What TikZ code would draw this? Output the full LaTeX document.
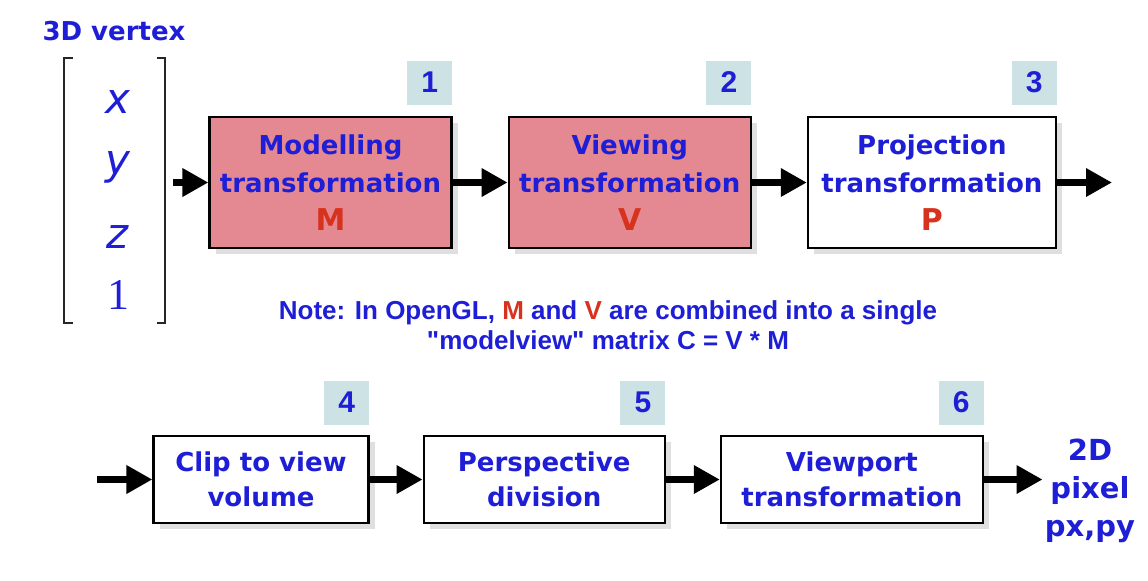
\documentclass[tikz,border=0pt]{standalone}
\usepackage{fontspec}
\setmainfont{DejaVu Sans}
\newfontfamily\notefont{Liberation Sans}
\newfontfamily\onefont{Liberation Serif}
\usetikzlibrary{arrows.meta, positioning, shadows}

\definecolor{stageblue}{RGB}{30,30,215}
\definecolor{stagered}{RGB}{215,50,30}
\definecolor{stagepink}{RGB}{228,137,145}
\definecolor{numgrey}{RGB}{204,226,228}

\newcommand{\matlet}[1]{\textcolor{stagered}{\fontsize{15}{19}\selectfont #1}}

\begin{document}
\begin{tikzpicture}[
  x=0.5pt, y=-0.5pt,
  node distance=27.5pt and 27.5pt,
  stage/.style={draw=black, line width=1.1pt, fill=white, align=center,
    minimum width=121pt, minimum height=65.5pt, inner sep=0pt,
    font=\fontsize{13}{19}\selectfont\bfseries, text=stageblue,
    drop shadow={shadow xshift=3pt, shadow yshift=-3pt, opacity=0.25}},
  lowstage/.style={stage, minimum height=43.5pt,
    font=\fontsize{13}{17.5}\selectfont\bfseries},
  num/.style={fill=numgrey, minimum width=22.5pt, minimum height=22pt,
    inner sep=0pt, font=\notefont\fontsize{15}{15}\selectfont\bfseries,
    text=stageblue},
  entry/.style={text=stageblue, font=\fontsize{21}{21}\selectfont\itshape},
  label/.style={text=stageblue, align=center, inner sep=1pt},
  arr/.style={-{Triangle[length=13pt, width=13.5pt]}, line width=3.5pt}
]
\useasboundingbox (0,0) rectangle (1148,580);

% input vertex
\node[label, font=\fontsize{13}{15}\selectfont\bfseries] (vtx) at (114,31) {3D vertex};
\node[entry] (ex) at (118,102) {x};
\node[entry] (ey) at (118,167) {y};
\node[entry] (ez) at (118,237) {z};
\node[entry, font=\onefont\fontsize{22}{22}\selectfont] (eone) at (118,295) {1};
\draw[line width=1pt, black!85] (73,58) -- (64,58) -- (64,323) -- (73,323);
\draw[line width=1pt, black!85] (157,58) -- (165,58) -- (165,323) -- (157,323);

% top row
\node[stage, fill=stagepink] (mod) at (330.5,182.5)
  {Modelling\\transformation\\\matlet{M}};
\node[stage, fill=stagepink, right=of mod] (view)
  {Viewing\\transformation\\\matlet{V}};
\node[stage, minimum width=124pt, right=of view] (proj)
  {Projection\\transformation\\\matlet{P}};

\node[num, above left=5.5pt and 0pt of mod.north east] (n1) {1};
\node[num, above left=5.5pt and 0pt of view.north east] (n2) {2};
\node[num, above left=5.5pt and 0pt of proj.north east] (n3) {3};

\coordinate (in1) at (173,182.5);
\coordinate (out1) at (1112,182.5);
\draw[arr] (in1) -- (mod);
\draw[arr] (mod) -- (view);
\draw[arr] (view) -- (proj);
\draw[arr] (proj) -- (out1);

% note
\node[label, font=\notefont\fontsize{13}{15}\selectfont\bfseries] (note) at (608,325)
  {Note: In OpenGL, \textcolor{stagered}{M} and \textcolor{stagered}{V} are combined into a single\\
   "modelview" matrix C = V * M};

% bottom row
\node[lowstage, minimum width=107.5pt] (clip) at (261,479.5) {Clip to view\\volume};
\node[lowstage, minimum width=120.5pt, right=26.5pt of clip] (persp) {Perspective\\division};
\node[lowstage, minimum width=131pt, right=27pt of persp] (vport) {Viewport\\transformation};

\node[num, above left=5pt and 0pt of clip.north east] (n4) {4};
\node[num, above left=5pt and 0pt of persp.north east] (n5) {5};
\node[num, above left=5pt and 0pt of vport.north east] (n6) {6};

\node[label, font=\fontsize{14.5}{19}\selectfont\bfseries] (pix) at (1090,491)
  {2D\\pixel\\px,py};

\coordinate (in2) at (97,479.5);
\draw[arr] (in2) -- (clip);
\draw[arr] (clip) -- (persp);
\draw[arr] (persp) -- (vport);
\draw[arr] (vport) -- (vport -| pix.west);
\end{tikzpicture}
\end{document}
